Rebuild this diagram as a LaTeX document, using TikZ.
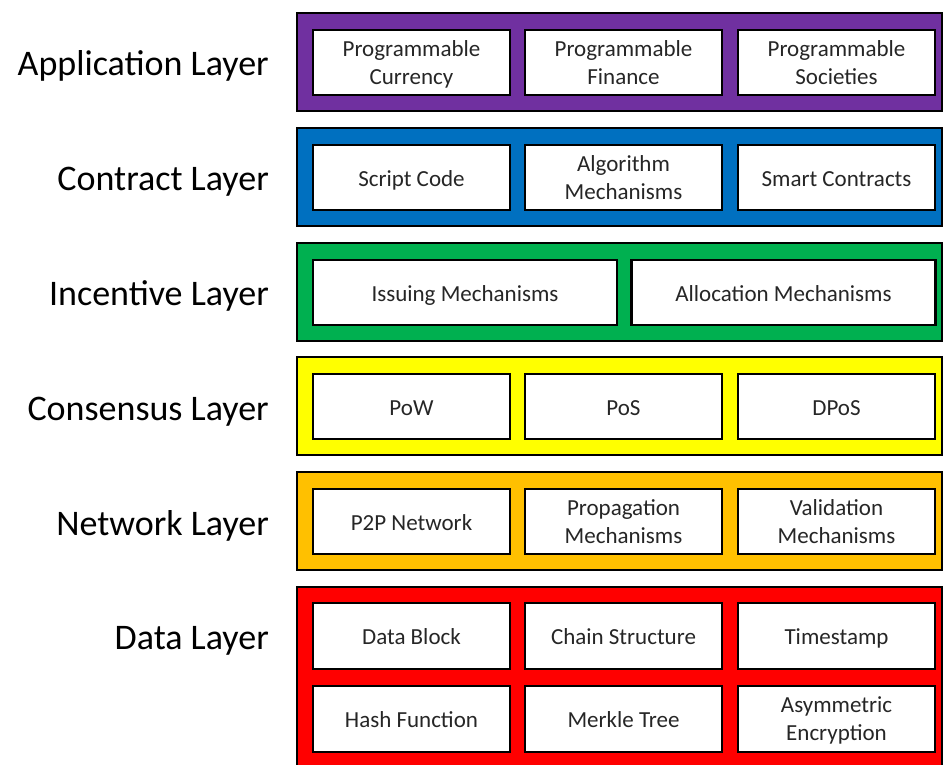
\documentclass[tikz,border=0pt]{standalone}
\usepackage{fontspec}
\setmainfont{Carlito}
\definecolor{appc}{HTML}{7030A0}
\definecolor{conc}{HTML}{0070C0}
\definecolor{incc}{HTML}{00B050}
\definecolor{cnsc}{HTML}{FFFF00}
\definecolor{netc}{HTML}{FFC000}
\definecolor{datc}{HTML}{FF0000}
\newcommand\twoln[2]{\begin{tabular}{@{}c@{}}\rule{0pt}{23.8pt}#1\\#2\end{tabular}}
\tikzset{
  layerbox/.style={draw=black, line width=2.6pt, minimum width=645pt, minimum height=98pt, inner sep=0pt},
  cellbase/.style={draw=black, fill=white, line width=2.4pt, minimum width=197pt, minimum height=65pt, inner sep=0pt, font=\fontsize{23}{28}\selectfont, text=black!85},
  cellbox/.style={cellbase, execute at begin node=\rule{0pt}{25.6pt}, execute at end node=\strut},
  twocell/.style={cellbase},
  widecell/.style={cellbox, minimum width=304pt},
  layerlabel/.style={anchor=east, inner sep=0pt, font=\fontsize{36}{40}\selectfont, execute at begin node=\strut}
}
\begin{document}
\begin{tikzpicture}[x=1pt,y=-1pt]
\useasboundingbox (0,0) rectangle (943,764);
\clip (0,0) rectangle (943,764);
% layers
\node[layerbox, fill=appc] (app) at (619.5,62) {};
\node[layerbox, fill=conc] (con) at (619.5,177) {};
\node[layerbox, fill=incc] (inc) at (619.5,292) {};
\node[layerbox, fill=cnsc] (cns) at (619.5,406) {};
\node[layerbox, fill=netc] (net) at (619.5,521) {};
\node[layerbox, fill=datc, minimum height=193pt] (dat) at (619.5,683.5) {};
% labels
\node[layerlabel] (lapp) at (269,67) {Application Layer};
\node[layerlabel] (lcon) at (269,182) {Contract Layer};
\node[layerlabel] (linc) at (269,297) {Incentive Layer};
\node[layerlabel] (lcns) at (269,412) {Consensus Layer};
\node[layerlabel] (lnet) at (269,527) {Network Layer};
\node[layerlabel] (ldat) at (269,641) {Data Layer};
% application
\node[twocell] (a1) at (411.5,62.5) {\twoln{Programmable}{Currency}};
\node[twocell] (a2) at (623.5,62.5) {\twoln{Programmable}{Finance}};
\node[twocell] (a3) at (836.5,62.5) {\twoln{Programmable}{Societies}};
% contract
\node[cellbox] (c1) at (411.5,177.5) {Script Code};
\node[twocell] (c2) at (623.5,177.5) {\twoln{Algorithm}{Mechanisms}};
\node[cellbox] (c3) at (836.5,177.5) {Smart Contracts};
% incentive
\node[widecell] (i1) at (465,292.5) {Issuing Mechanisms};
\node[widecell] (i2) at (783.5,292.5) {Allocation Mechanisms};
% consensus
\node[cellbox] (s1) at (411.5,406.5) {PoW};
\node[cellbox] (s2) at (623.5,406.5) {PoS};
\node[cellbox] (s3) at (836.5,406.5) {DPoS};
% network
\node[cellbox] (n1) at (411.5,521.5) {P2P Network};
\node[twocell] (n2) at (623.5,521.5) {\twoln{Propagation}{Mechanisms}};
\node[twocell] (n3) at (836.5,521.5) {\twoln{Validation}{Mechanisms}};
% data
\node[cellbox, minimum height=66pt] (d1) at (411.5,636) {Data Block};
\node[cellbox, minimum height=66pt] (d2) at (623.5,636) {Chain Structure};
\node[cellbox, minimum height=66pt] (d3) at (836.5,636) {Timestamp};
\node[cellbox, minimum height=66pt] (d4) at (411.5,719) {Hash Function};
\node[cellbox, minimum height=66pt] (d5) at (623.5,719) {Merkle Tree};
\node[twocell, minimum height=66pt] (d6) at (836.5,719) {\twoln{Asymmetric}{Encryption}};
\end{tikzpicture}
\end{document}
